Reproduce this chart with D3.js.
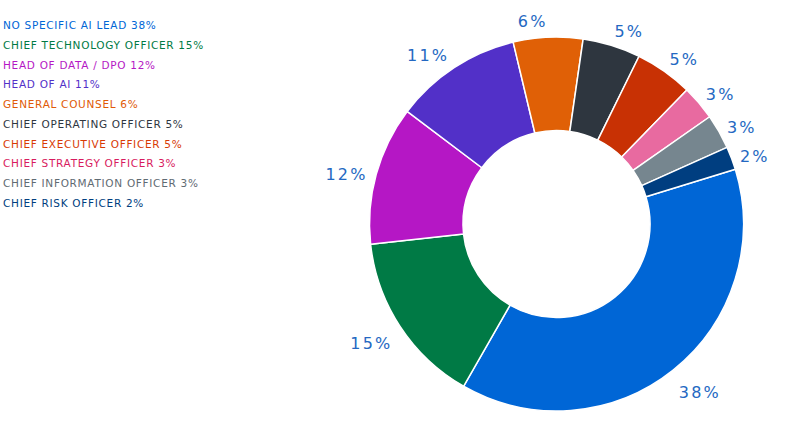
<!DOCTYPE html>
<html>
<head>
<meta charset="utf-8">
<script src="https://cdn.jsdelivr.net/npm/d3@7"></script>
<style>
  body { margin: 0; background: #fff; }
  svg { display: block; }
  .legend text { font-family: 'DejaVu Sans', sans-serif; font-size: 10.5px; letter-spacing: 0.7px; }
  .labels text { font-family: 'DejaVu Sans', sans-serif; font-size: 16px; letter-spacing: 2.2px; fill: #2468c2; }
</style>
</head>
<body>
<div id="chart"></div>
<script>
// AI leadership ownership breakdown
const categories = [
  'No specific AI lead',
  'Chief Technology Officer',
  'Head of Data / DPO',
  'Head of AI',
  'General Counsel',
  'Chief Operating Officer',
  'Chief Executive Officer',
  'Chief Strategy Officer',
  'Chief Information Officer',
  'Chief Risk Officer'
];
const values = [38, 15, 12, 11, 6, 5, 5, 3, 3, 2];
const colors = ['#0066d6', '#007a45', '#b517c5', '#5230c8', '#e06006',
                '#2e363f', '#c83104', '#e86aa0', '#76868f', '#003e80'];
const legendColors = ['#0066d6', '#007a45', '#b517c5', '#5230c8', '#e05a06',
                      '#2e363f', '#d83a04', '#d81b60', '#5f6b73', '#003e80'];

const width = 786, height = 448;
const cx = 556.5, cy = 224;
const outerR = 187, innerR = 93.5;
const startAngle = 73 * Math.PI / 180;

let svg = d3.select('#chart').append('svg')
  .attr('width', width)
  .attr('height', height);

let data = categories.map(function(c, i) {
  return {name: c, value: values[i], color: colors[i], legend: legendColors[i]};
});

let pie = d3.pie()
  .value(function(d) { return d.value })
  .sort(null)
  .startAngle(startAngle)
  .endAngle(startAngle + 2 * Math.PI);

let arcs = pie(data);

let arc = d3.arc()
  .innerRadius(innerR)
  .outerRadius(outerR);

let g = svg.append('g')
  .attr('transform', 'translate(' + cx + ',' + cy + ')');

g.selectAll('path')
  .data(arcs)
.enter().append('path')
  .attr('d', arc)
  .style('fill', function(d) { return d.data.color })
  .style('stroke', '#fff')
  .style('stroke-width', '1.5px')
  .style('stroke-linejoin', 'round');

// data labels sit on a slightly flattened ring outside the donut,
// near edge of the text towards the chart
let labelRx = 196, labelRy = 208;
function mid(d) { return (d.startAngle + d.endAngle) / 2 }

g.append('g')
  .attr('class', 'labels')
  .selectAll('text')
  .data(arcs)
.enter().append('text')
  .attr('x', function(d) { return Math.sin(mid(d)) * labelRx })
  .attr('y', function(d) { return -Math.cos(mid(d)) * labelRy + 5.5 })
  .attr('dy', '0.36em')
  .attr('text-anchor', function(d) {
    return (mid(d) % (2 * Math.PI)) < Math.PI ? 'start' : 'end';
  })
  .text(function(d) { return d.data.value + '%' });

// legend
let legend = svg.append('g')
  .attr('class', 'legend')
  .attr('transform', 'translate(3,29)');

legend.selectAll('text')
  .data(data)
.enter().append('text')
  .attr('x', 0)
  .attr('y', function(d, i) { return i * 19.75 })
  .style('fill', function(d) { return d.legend })
  .text(function(d) { return d.name.toUpperCase() + ' ' + d.value + '%' });
</script>
</body>
</html>
